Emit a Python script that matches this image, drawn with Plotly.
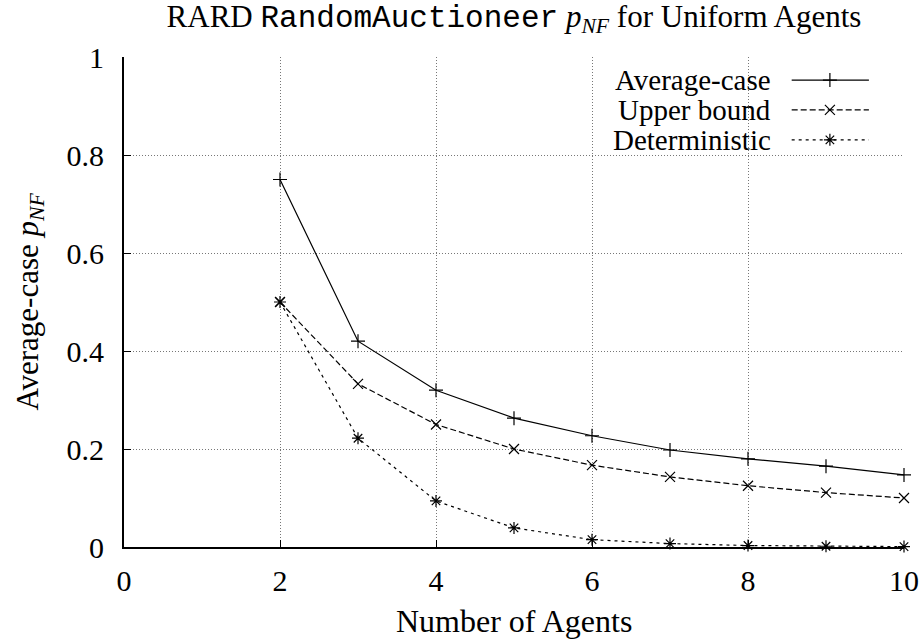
import plotly.graph_objects as go

agents = [2, 3, 4, 5, 6, 7, 8, 9, 10]
avg_case = [0.75, 0.42, 0.32, 0.263, 0.227, 0.198, 0.180, 0.165, 0.147]
upper_bound = [0.5, 0.333, 0.25, 0.2, 0.167, 0.143, 0.125, 0.111, 0.1]
deterministic = [0.5, 0.222, 0.094, 0.039, 0.015, 0.007, 0.003, 0.0015, 0.0008]

series_names = ["Average-case", "Upper bound", "Deterministic"]
series_vals = [avg_case, upper_bound, deterministic]
dashes = ["solid", "6px,3px", "3px,4px"]
symbols = ["cross-thin-open", "x-thin-open", "asterisk-open"]
x_ticks = [0, 2, 4, 6, 8, 10]
y_ticks = [0, 0.2, 0.4, 0.6, 0.8, 1]
y_tick_text = ["0", "0.2", "0.4", "0.6", "0.8", "1"]

FONT = "Liberation Serif"
FS = 30
fig = go.Figure()
for name, vals, d, s in zip(series_names, series_vals, dashes, symbols):
    fig.add_trace(go.Scatter(
        x=agents, y=vals, mode="lines+markers", name=name,
        line=dict(color="black", width=1.2, dash=d),
        marker=dict(symbol=s, size=10, color="black", line=dict(color="black", width=1.2)),
        showlegend=False, cliponaxis=False,
    ))

# legend samples (drawn right of text, gnuplot style) on overlay axes
leg_y = [0.953, 0.892, 0.831]
for i, (name, d, s) in enumerate(zip(series_names, dashes, symbols)):
    fig.add_trace(go.Scatter(
        x=[0.856, 0.905, 0.955], y=[leg_y[i]] * 3, mode="lines", xaxis="x2", yaxis="y2",
        line=dict(color="black", width=1.2, dash=d), showlegend=False, hoverinfo="skip",
    ))
    fig.add_trace(go.Scatter(
        x=[0.905], y=[leg_y[i]], mode="markers", xaxis="x2", yaxis="y2",
        marker=dict(symbol=s, size=10, color="black", line=dict(color="black", width=1.2)),
        showlegend=False, hoverinfo="skip",
    ))
    fig.add_annotation(x=0.832, y=leg_y[i], xref="x2", yref="y2", text=name,
                       showarrow=False, xanchor="right", yanchor="middle",
                       font=dict(family=FONT, size=29, color="black"))

# axis titles
fig.add_annotation(x=0.5, y=-0.151, xref="paper", yref="paper", text="Number of Agents",
                   showarrow=False, xanchor="center", yanchor="middle",
                   font=dict(family=FONT, size=32, color="black"))
fig.add_annotation(x=-0.121, y=0.5, xref="paper", yref="paper",
                   text="Average-case <i>p</i><sub><i>NF</i></sub>", textangle=-90,
                   showarrow=False, xanchor="center", yanchor="middle",
                   font=dict(family=FONT, size=31, color="black"))

grid = dict(showgrid=True, gridcolor="#777777", griddash="1px,2px", gridwidth=1)
fig.update_layout(
    width=923, height=642,
    paper_bgcolor="white", plot_bgcolor="white",
    margin=dict(l=124, r=19, t=57, b=95, autoexpand=False),
    font=dict(family=FONT, size=FS, color="black"),
    title=dict(
        text='RARD <span style="font-family:Liberation Mono">RandomAuctioneer</span> <i>p</i><sub><i>NF</i></sub> for Uniform Agents',
        x=0.5, xref="paper", xanchor="center", y=0.975, yref="container", yanchor="middle",
        font=dict(family=FONT, size=31, color="black"),
    ),
    xaxis=dict(range=[0, 10], tickvals=x_ticks, ticks="inside", ticklen=7, tickcolor="black",
               showline=True, linecolor="black", linewidth=2, zeroline=False,
               ticklabelstandoff=6, ticklabeloverflow="allow", automargin=False, **grid),
    yaxis=dict(range=[0, 1], tickvals=y_ticks, ticktext=y_tick_text, ticks="inside", ticklen=7,
               tickcolor="black", showline=True, linecolor="black", linewidth=2, zeroline=False,
               ticklabelstandoff=12, ticklabeloverflow="allow", automargin=False, **grid),
    xaxis2=dict(overlaying="x", range=[0, 1], visible=False, fixedrange=True),
    yaxis2=dict(overlaying="y", range=[0, 1], visible=False, fixedrange=True),
)
fig.write_html("out.html", config={"displayModeBar": False},
               post_script="document.body.style.margin='0';")
